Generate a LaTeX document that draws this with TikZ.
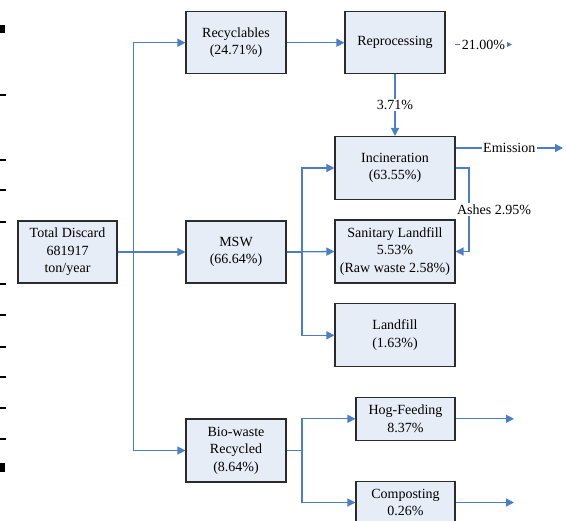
\documentclass[tikz,border=0pt]{standalone}
\usepackage{fontspec}
\setmainfont{Liberation Serif}
\usetikzlibrary{arrows.meta}
\definecolor{boxfill}{HTML}{E6EDF7}
\definecolor{flowblue}{HTML}{4A7EC7}
\definecolor{boxline}{HTML}{2B2B2B}
\tikzset{
  box/.style={draw=boxline, line width=1.1pt, fill=boxfill, align=center, inner sep=0pt,
    font=\fontsize{14}{17.5}\selectfont},
  flow/.style={draw=flowblue, line width=1.3pt},
  arr/.style={flow, -{Triangle[length=8pt,width=8pt]}},
  lbl/.style={fill=white, inner sep=1.5pt, font=\fontsize{14}{17}\selectfont},
  tick/.style={fill=black}
}
\begin{document}
\begin{tikzpicture}[x=1pt,y=-1pt]
\useasboundingbox (0,0) rectangle (567,520);
\clip (0,0) rectangle (567,520);
% left edge marks
\foreach \yy in {95,160,190,222,284,315,347,377,408,439}
  \fill[tick] (0,\yy-1) rectangle (6,\yy+1);
\fill[tick] (0,25) rectangle (5,33);
\fill[tick] (0,463) rectangle (5,472);
% boxes
\node[box, minimum width=99pt, minimum height=62pt] (total) at (67.5,252) {Total Discard\\681917\\ton/year};
\node[box, minimum width=100pt, minimum height=62pt] (recy) at (236,42.7) {Recyclables\\(24.71\%)};
\node[box, minimum width=100pt, minimum height=62pt] (repro) at (395,42.7) {Reprocessing};
\node[box, minimum width=100pt, minimum height=62pt] (msw) at (236,252) {MSW\\(66.64\%)};
\node[box, minimum width=100pt, minimum height=63pt] (bio) at (236,450.5) {Bio-waste\\Recycled\\(8.64\%)};
\node[box, minimum width=120pt, minimum height=63pt] (inc) at (395,168) {Incineration\\(63.55\%)};
\node[box, minimum width=120pt, minimum height=63pt] (san) at (395,251.5) {Sanitary Landfill\\5.53\%\\(Raw waste 2.58\%)};
\node[box, minimum width=120pt, minimum height=63pt] (land) at (395,335.3) {Landfill\\(1.63\%)};
\node[box, minimum width=99pt, minimum height=42.5pt] (hog) at (405.5,418.8) {Hog-Feeding\\8.37\%};
\node[box, minimum width=99pt, minimum height=42.5pt] (comp) at (405.5,502.5) {Composting\\0.26\%};
% free ends
\coordinate (r1) at (455,44.5);
\coordinate (r2) at (512,44.5);
\coordinate (em2) at (563,148);
\coordinate (hogend) at (514,418.8);
\coordinate (compend) at (514,502.5);
\coordinate (ashx) at (469,0);
% trunk
\draw[arr] (total.east) -- (msw.west);
\draw[arr] (total.east) -- ++(16,0) |- (recy.west);
\draw[arr] (total.east) -- ++(16,0) |- (bio.west);
% recyclables
\draw[arr] (recy.east) -- (repro.west);
\draw[arr] (r1) -- node[lbl]{21.00\%} (r2);
\draw[arr] (repro.south) -- node[lbl, pos=0.5]{3.71\%} (inc.north);
% msw
\draw[arr] (msw.east) -- (san.west);
\draw[arr] (msw.east) -- ++(15.5,0) |- (inc.west);
\draw[arr] (msw.east) -- ++(15.5,0) |- (land.west);
% emission & ashes
\draw[arr] ([yshift=20pt]inc.east) -- node[lbl, pos=0.5]{Emission} (em2);
\draw[arr] (inc.east) -- (inc.east -| ashx) -- node[lbl, pos=0.5, xshift=25pt]{Ashes 2.95\%} (san.east -| ashx) -- (san.east);
% bio
\draw[arr] (bio.east) -- ++(15.5,0) |- (hog.west);
\draw[arr] (bio.east) -- ++(15.5,0) |- (comp.west);
\draw[arr] (hog.east) -- (hogend);
\draw[arr] (comp.east) -- (compend);
\end{tikzpicture}
\end{document}
